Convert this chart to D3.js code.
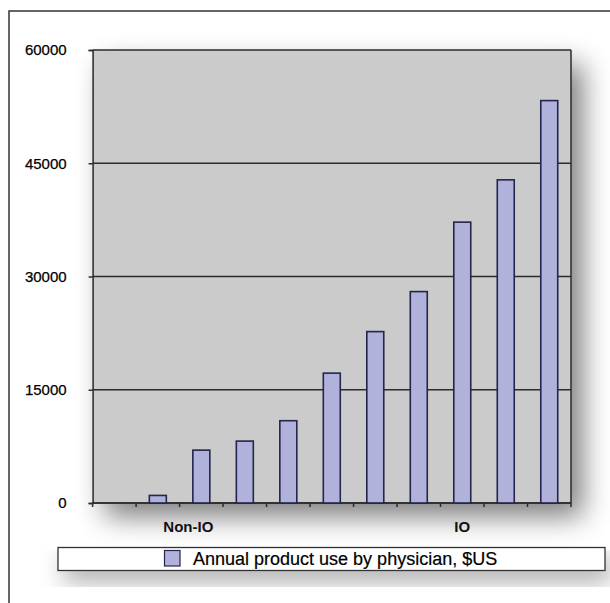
<!DOCTYPE html>
<html><head><meta charset="utf-8">
<script src="https://cdn.jsdelivr.net/npm/d3@7"></script>
<style>
html,body{margin:0;padding:0;background:#fff;}
svg{display:block;font-family:"Liberation Sans",Arial,sans-serif;}
</style></head>
<body>
<svg id="chart" width="610" height="603"></svg>
<script>
// ---- data ----
const categories = ["1","2","3","4","5","6","7","8","9","10","11"];
const values = [0, 1000, 7000, 8200, 10900, 17200, 22700, 28000, 37200, 42800, 53300];
const yTicks = [0, 15000, 30000, 45000, 60000];
const groupLabels = ["Non-IO", "IO"];
const groupLabelCategory = ["3", "9"];
const seriesName = "Annual product use by physician, $US";

(function(){
const svg = d3.select("#chart");
const W = 610, H = 603;
const pL = 92.6, pR = 571, pT = 50, pB = 503;

const defs = svg.append("defs");
function shadow(id, sd, dx, dy, a){
  const f = defs.append("filter").attr("id",id).attr("x","-30%").attr("y","-30%").attr("width","170%").attr("height","200%");
  f.append("feGaussianBlur").attr("in","SourceAlpha").attr("stdDeviation",sd).attr("result","b");
  f.append("feOffset").attr("in","b").attr("dx",dx).attr("dy",dy).attr("result","o");
  f.append("feComponentTransfer").attr("in","o").attr("result","s")
    .append("feFuncA").attr("type","linear").attr("slope",a);
  const m = f.append("feMerge");
  m.append("feMergeNode").attr("in","s");
  m.append("feMergeNode").attr("in","SourceGraphic");
}
shadow("shadow", 14, 12, 14, 0.5);
shadow("shadow2", 12, 6, 10, 0.35);

// outer frame
svg.append("rect").attr("x",9).attr("y",11).attr("width",W).attr("height",H)
  .attr("fill","#fff").attr("stroke","#333").attr("stroke-width",1.5);

const x = d3.scaleBand().domain(categories).range([pL, pR])
  .paddingInner(0.61).paddingOuter(0.305);
const y = d3.scaleLinear().domain([0, 60000]).range([pB, pT]);

// plot background with shadow
svg.append("rect").attr("x",pL).attr("y",pT).attr("width",pR-pL).attr("height",pB-pT)
  .attr("fill","#cbcbcb").attr("filter","url(#shadow)");

// gridlines
svg.append("g").selectAll("line").data(yTicks).join("line")
  .attr("x1",pL).attr("x2",pR).attr("y1",d=>y(d)).attr("y2",d=>y(d))
  .attr("stroke","#2b2b2b").attr("stroke-width",1.5);

// y axis
const yAxis = svg.append("g").attr("transform",`translate(${pL},0)`)
  .call(d3.axisLeft(y).tickValues(yTicks).tickSize(4).tickPadding(22).tickFormat(d3.format("d")));
yAxis.select(".domain").attr("stroke","#2b2b2b").attr("stroke-width",1.5);
yAxis.selectAll(".tick line").attr("stroke","#2b2b2b").attr("stroke-width",1.5);
yAxis.selectAll("text").attr("font-size",15).attr("fill","#000")
  .attr("stroke","#000").attr("stroke-width",0.25)
  .attr("font-family","Liberation Sans, Arial, sans-serif");

// right border
svg.append("line").attr("x1",pR).attr("x2",pR).attr("y1",pT).attr("y2",pB)
  .attr("stroke","#2b2b2b").attr("stroke-width",1.5);

// x axis with ticks at band boundaries
const edges = categories.map(c => x(c) - x.step()*x.paddingInner()/2).concat([pR]);
svg.append("line").attr("x1",pL).attr("x2",pR).attr("y1",pB).attr("y2",pB)
  .attr("stroke","#2b2b2b").attr("stroke-width",1.5);
svg.append("g").selectAll("line").data(edges).join("line")
  .attr("x1",d=>d).attr("x2",d=>d).attr("y1",pB).attr("y2",pB+4)
  .attr("stroke","#2b2b2b").attr("stroke-width",1.5);

// bars
svg.append("g").selectAll("rect").data(values).join("rect")
  .attr("x",(d,i)=>x(categories[i]))
  .attr("y",d=>y(d))
  .attr("width",x.bandwidth())
  .attr("height",d=>y(0)-y(d))
  .attr("fill","#b0b2dc").attr("stroke","#23264a").attr("stroke-width",1.6);

// group labels
svg.append("g").selectAll("text").data(groupLabels).join("text")
  .attr("x",(d,i)=>x(groupLabelCategory[i]) + x.bandwidth()/2 - (i===0?13:0))
  .attr("y",532)
  .attr("text-anchor","middle").attr("font-size",15).attr("font-weight","bold").attr("fill","#111")
  .text(d=>d);

// legend
const lg = svg.append("g");
lg.append("rect").attr("x",58).attr("y",547.5).attr("width",547).attr("height",23)
  .attr("fill","#fff").attr("stroke","#333").attr("stroke-width",1.3).attr("filter","url(#shadow2)");
lg.append("rect").attr("x",164.5).attr("y",550.5).attr("width",15.5).attr("height",15.5)
  .attr("fill","#b0b2dc").attr("stroke","#23264a").attr("stroke-width",1.2);
lg.append("text").attr("x",193).attr("y",564.5).attr("font-size",18).attr("fill","#000")
  .attr("stroke","#000").attr("stroke-width",0.2)
  .text(seriesName);
})();
</script>
</body></html>
